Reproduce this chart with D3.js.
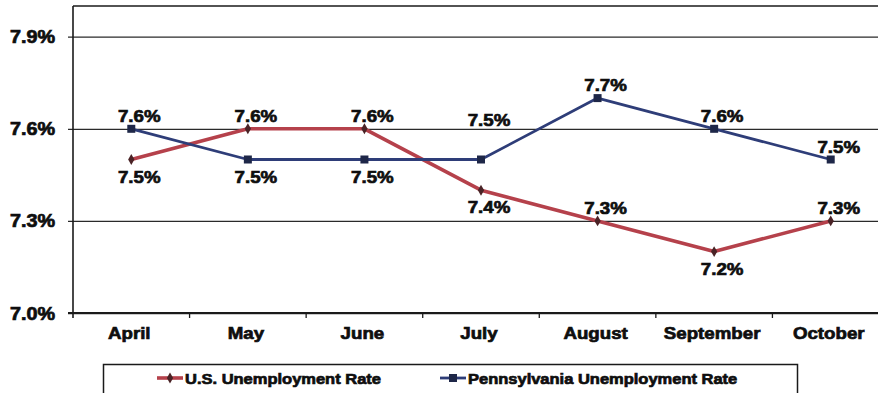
<!DOCTYPE html>
<html>
<head>
<meta charset="utf-8">
<script src="https://cdn.jsdelivr.net/npm/d3@7/dist/d3.min.js"></script>
<style>
  html, body { margin: 0; padding: 0; background: #ffffff; }
  svg { display: block; }
  text { font-family: "Liberation Sans", Arial, sans-serif; font-weight: bold; fill: #0e0e0e;
         stroke: #0e0e0e; stroke-width: 0.7px; paint-order: stroke; }
</style>
</head>
<body>
<svg id="chart" width="878" height="393"></svg>
<script>
// Monthly unemployment rates (%), April through October
const months = ["April", "May", "June", "July", "August", "September", "October"];
const usRate = [7.5, 7.6, 7.6, 7.4, 7.3, 7.2, 7.3];
const paRate = [7.6, 7.5, 7.5, 7.5, 7.7, 7.6, 7.5];
const yTicks = [7.0, 7.3, 7.6, 7.9];
const seriesNames = ["U.S. Unemployment Rate", "Pennsylvania Unemployment Rate"];

// Where each value label sits relative to its point (layout only)
const usLabelSide = ["below", "above", "above", "below", "above", "below", "above"];
const paLabelSide = ["above", "below", "below", "above", "above", "above", "above"];

const COLORS = { us: "#b5414b", pa: "#2e3d78", usMark: "#4a2326", paMark: "#1e2748" };
const SX = 1.1; // horizontal widening of the lettering

const svg = d3.select("#chart");
const plot = { left: 73, right: 889, top: 6, bottom: 313 };

const x = d3.scaleBand().domain(months).range([plot.left, plot.right]).paddingInner(0).paddingOuter(0);
const cx = m => x(m) + x.bandwidth() / 2;
const y = d3.scaleLinear().domain([7.0, 8.0]).range([plot.bottom, plot.top]);

const fmt = v => d3.format(".1f")(v) + "%";

function label(g, tx, ty, str, size, anchor) {
  return g.append("text")
    .attr("transform", `translate(${tx},${ty}) scale(${SX},1)`)
    .attr("text-anchor", anchor)
    .style("font-size", size + "px")
    .text(str);
}

// Gridlines with short outside ticks on the value axis
const yAxis = d3.axisLeft(y).tickValues(yTicks).tickSize(-(plot.right - plot.left)).tickSizeOuter(0).tickFormat("");
const yg = svg.append("g").attr("transform", `translate(${plot.left},0)`).call(yAxis);
yg.select(".domain").remove();
yg.selectAll(".tick line").attr("x1", -5).attr("stroke", "#2a2a2a").attr("stroke-width", 1.3);

// Value-axis labels
yTicks.forEach(t => label(svg, 55, y(t) + 6.5, fmt(t), 18, "end"));

// Plot frame: top edge and left axis
svg.append("line").attr("x1", plot.left).attr("x2", plot.right).attr("y1", y(8.0)).attr("y2", y(8.0))
  .attr("stroke", "#1a1a1a").attr("stroke-width", 1.6);
svg.append("line").attr("x1", plot.left).attr("x2", plot.left).attr("y1", y(8.0)).attr("y2", plot.bottom + 5)
  .attr("stroke", "#1a1a1a").attr("stroke-width", 1.6);

// Category axis with tick marks between categories
svg.append("line").attr("x1", plot.left - 5).attr("x2", plot.right).attr("y1", plot.bottom).attr("y2", plot.bottom)
  .attr("stroke", "#1a1a1a").attr("stroke-width", 1.8);
months.slice(1).forEach(m => {
  svg.append("line").attr("x1", x(m)).attr("x2", x(m)).attr("y1", plot.bottom).attr("y2", plot.bottom + 5)
    .attr("stroke", "#1a1a1a").attr("stroke-width", 1.3);
});
months.forEach(m => label(svg, cx(m) - 2, 339, m, 17, "middle"));

// Lines
const line = d3.line().x((d, i) => cx(months[i])).y(d => y(d));
svg.append("path").datum(usRate).attr("d", line).attr("fill", "none")
  .attr("stroke", COLORS.us).attr("stroke-width", 3.6).attr("stroke-linejoin", "round");
svg.append("path").datum(paRate).attr("d", line).attr("fill", "none")
  .attr("stroke", COLORS.pa).attr("stroke-width", 2.8).attr("stroke-linejoin", "round");

// Markers
const diamond = d3.symbol().type(d3.symbolDiamond).size(34);
svg.selectAll(".usMark").data(usRate).enter().append("path")
  .attr("transform", (d, i) => `translate(${cx(months[i])},${y(d)})`)
  .attr("d", diamond).attr("fill", COLORS.usMark);
svg.selectAll(".paMark").data(paRate).enter().append("rect")
  .attr("x", (d, i) => cx(months[i]) - 4).attr("y", d => y(d) - 4)
  .attr("width", 8).attr("height", 8).attr("fill", COLORS.paMark);

// Value labels
function valueLabels(vals, sides, highOffset) {
  vals.forEach((v, i) => {
    const px = cx(months[i]) + 8;
    let py = sides[i] === "above" ? y(v) - 7 : y(v) + 23;
    if (highOffset && highOffset[i]) py = y(v) - highOffset[i];
    label(svg, px, py, fmt(v), 17, "middle");
  });
}
valueLabels(usRate, usLabelSide, null);
valueLabels(paRate, paLabelSide, [0, 0, 0, 34, 0, 0, 0]);

// Legend
const lg = svg.append("g");
lg.append("rect").attr("x", 103.5).attr("y", 364.5).attr("width", 694).attr("height", 40)
  .attr("fill", "#fff").attr("stroke", "#1a1a1a").attr("stroke-width", 1.5);
const legendItems = [
  { name: seriesNames[0], color: COLORS.us, mark: COLORS.usMark, x0: 157, w: 3.6, sym: "diamond" },
  { name: seriesNames[1], color: COLORS.pa, mark: COLORS.paMark, x0: 440, w: 2.8, sym: "square" }
];
legendItems.forEach(it => {
  const ly = 378;
  lg.append("line").attr("x1", it.x0).attr("x2", it.x0 + 26).attr("y1", ly).attr("y2", ly)
    .attr("stroke", it.color).attr("stroke-width", it.w);
  if (it.sym === "diamond") {
    lg.append("path").attr("transform", `translate(${it.x0 + 13},${ly})`).attr("d", diamond).attr("fill", it.mark);
  } else {
    lg.append("rect").attr("x", it.x0 + 9).attr("y", ly - 4).attr("width", 8).attr("height", 8).attr("fill", it.mark);
  }
  label(lg, it.x0 + 28, ly + 6, it.name, 15, "start");
});
</script>
</body>
</html>
